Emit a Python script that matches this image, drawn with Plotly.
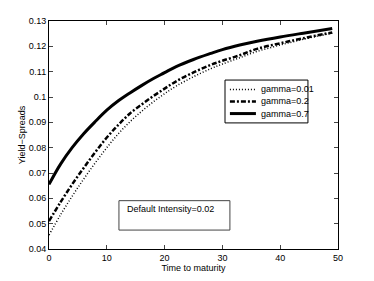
import plotly.graph_objects as go

t = [0, 2, 4, 6, 8, 10, 12, 14, 16, 18, 20, 22, 25, 28, 30, 33, 36, 40, 44, 49]
gamma_001 = [0.0455, 0.0535, 0.0608, 0.0676, 0.0740, 0.0800, 0.0855, 0.0902, 0.0943, 0.0980,
             0.1013, 0.1043, 0.1080, 0.1112, 0.1130, 0.1155, 0.1180, 0.1205, 0.1228, 0.1252]
gamma_02 = [0.0510, 0.0585, 0.0655, 0.0720, 0.0782, 0.0840, 0.0890, 0.0935, 0.0970, 0.1003,
            0.1033, 0.1062, 0.1097, 0.1127, 0.1143, 0.1165, 0.1190, 0.1212, 0.1232, 0.1255]
gamma_07 = [0.0655, 0.0735, 0.0800, 0.0855, 0.0903, 0.0948, 0.0985, 0.1016, 0.1045, 0.1072,
            0.1096, 0.1120, 0.1148, 0.1172, 0.1187, 0.1205, 0.1220, 0.1237, 0.1252, 0.1270]

series_names = ["gamma=0.01", "gamma=0.2", "gamma=0.7"]
series_values = [gamma_001, gamma_02, gamma_07]
series_styles = [dict(color="black", width=1.5, dash="1px,2px"),
                 dict(color="black", width=2.5, dash="5px,2px,2px,2px"),
                 dict(color="black", width=3, dash="solid")]

x_ticks = [0, 10, 20, 30, 40, 50]
y_ticks = [0.04, 0.05, 0.06, 0.07, 0.08, 0.09, 0.1, 0.11, 0.12, 0.13]
y_tick_labels = ["0.04", "0.05", "0.06", "0.07", "0.08", "0.09", "0.1", "0.11", "0.12", "0.13"]

FONT = "Arial, Liberation Sans, Helvetica, sans-serif"

fig = go.Figure()
for name, vals, style in zip(series_names, series_values, series_styles):
    fig.add_trace(go.Scatter(x=t, y=vals, mode="lines", name=name, line_shape="spline",
                             line=style, showlegend=False, hoverinfo="skip"))

fig.update_layout(
    width=374, height=281,
    margin=dict(l=49, r=36, t=21, b=32, autoexpand=False),
    paper_bgcolor="white", plot_bgcolor="white",
    font=dict(family=FONT, size=9, color="black"),
    showlegend=False,
    xaxis=dict(range=[0, 50], tickvals=x_ticks, ticks="inside", ticklen=4,
               showline=True, linecolor="black", linewidth=1, mirror="ticks",
               showgrid=False, zeroline=False, automargin=False,
               title=dict(text="Time to maturity", font=dict(size=9), standoff=0)),
    yaxis=dict(range=[0.04, 0.13], tickvals=y_ticks, ticktext=y_tick_labels,
               ticks="inside", ticklen=4,
               showline=True, linecolor="black", linewidth=1, mirror="ticks",
               showgrid=False, zeroline=False, automargin=False,
               title=dict(text="Yield\u2212Spreads", font=dict(size=9), standoff=1)),
)

# legend box (manual, compact like the original)
fig.add_shape(type="rect", xref="paper", yref="paper", x0=0.609, x1=0.896, y0=0.553, y1=0.741,
              line=dict(color="black", width=1), fillcolor="white", layer="above")
row_y = [0.700, 0.647, 0.594]
for name, style, yy in zip(series_names, series_styles, row_y):
    fig.add_shape(type="line", xref="paper", yref="paper", x0=0.626, x1=0.716, y0=yy, y1=yy,
                  line=style, layer="above")
    fig.add_annotation(text=name, xref="paper", yref="paper", x=0.728, y=yy,
                       xanchor="left", yanchor="middle", showarrow=False, font=dict(size=9))

fig.add_shape(type="rect", xref="paper", yref="paper", x0=0.242, x1=0.626, y0=0.083, y1=0.212,
              line=dict(color="#444444", width=1), fillcolor="white", layer="below")
fig.add_annotation(text="Default Intensity=0.02", xref="paper", yref="paper", x=0.262, y=0.175,
                   xanchor="left", yanchor="middle", showarrow=False, font=dict(size=9))

fig.write_html("out.html", config={"displayModeBar": False},
               post_script="document.body.style.margin='0px';")
